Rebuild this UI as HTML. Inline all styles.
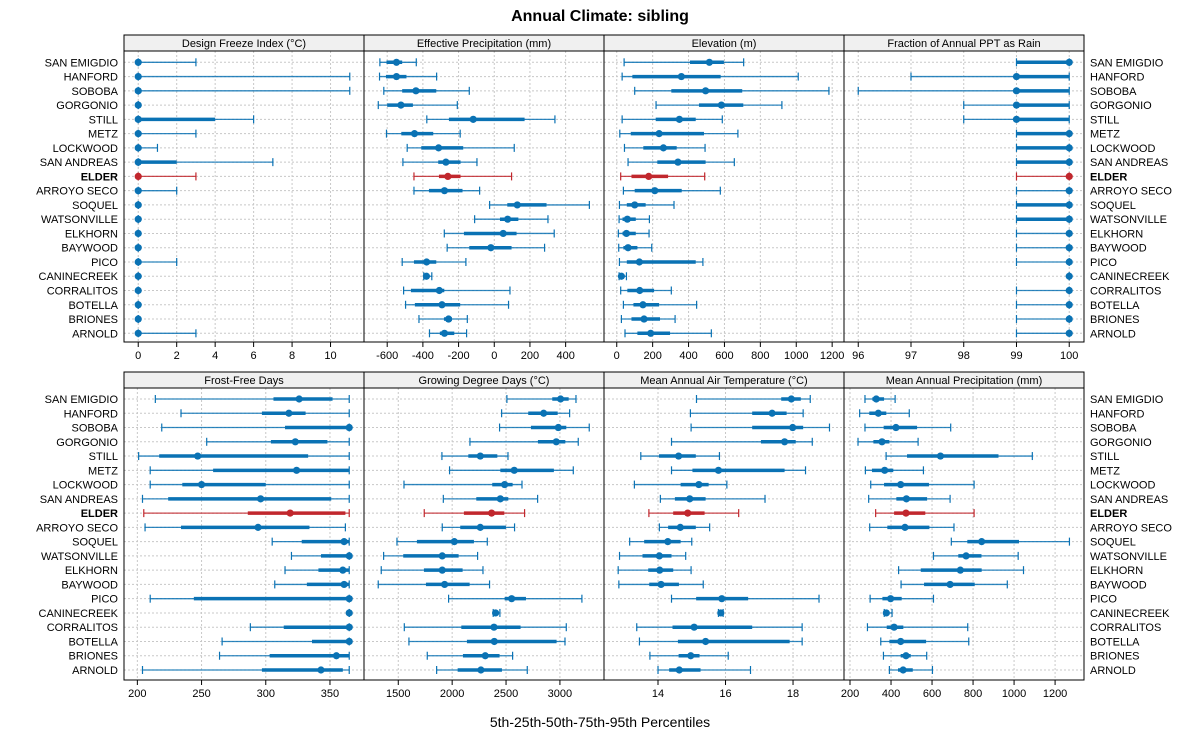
<!DOCTYPE html>
<html><head><meta charset="utf-8"><style>
body{margin:0;background:#fff;}
svg{display:block;font-family:"Liberation Sans",sans-serif;}
</style></head><body>
<svg id="c" width="1200" height="750" viewBox="0 0 1200 750">
<text x="600" y="21" text-anchor="middle" font-size="16" font-weight="bold">Annual Climate: sibling</text>
<text x="600" y="727" text-anchor="middle" font-size="14">5th-25th-50th-75th-95th Percentiles</text>
</svg>
<script>
const sites=["SAN EMIGDIO","HANFORD","SOBOBA","GORGONIO","STILL","METZ","LOCKWOOD","SAN ANDREAS","ELDER","ARROYO SECO","SOQUEL","WATSONVILLE","ELKHORN","BAYWOOD","PICO","CANINECREEK","CORRALITOS","BOTELLA","BRIONES","ARNOLD"];
const highlight="ELDER";
const titles=["Design Freeze Index (°C)","Effective Precipitation (mm)","Elevation (m)","Fraction of Annual PPT as Rain","Frost-Free Days","Growing Degree Days (°C)","Mean Annual Air Temperature (°C)","Mean Annual Precipitation (mm)"];
const ticks=[[0,2,4,6,8,10],[-600,-400,-200,0,200,400],[0,200,400,600,800,1000,1200],[96,97,98,99,100],[200,250,300,350],[1500,2000,2500,3000],[14,16,18],[200,400,600,800,1000,1200]];
const domains=[[-0.74,11.74],[-730,615],[-71,1266],[95.73,100.28],[189.6,376.5],[1182,3409],[12.4,19.51],[170.7,1341]];
const dfi=[[0,0,0,0,3],[0,0,0,0,11],[0,0,0,0,11],[0,0,0,0,0],[0,0,0,4,6],[0,0,0,0,3],[0,0,0,0,1],[0,0,0,2,7],[0,0,0,0,3],[0,0,0,0,2],[0,0,0,0,0],[0,0,0,0,0],[0,0,0,0,0],[0,0,0,0,0],[0,0,0,0,2],[0,0,0,0,0],[0,0,0,0,0],[0,0,0,0,0],[0,0,0,0,0],[0,0,0,0,3]];
const ppte=[[-641,-604,-548,-516,-437],[-643,-607,-548,-492,-323],[-619,-516,-439,-325,-140],[-650,-600,-523,-456,-207],[-378,-254,-118,170,340],[-604,-521,-447,-342,-191],[-488,-409,-312,-174,112],[-512,-314,-271,-189,-97],[-450,-310,-260,-189,97],[-450,-366,-279,-178,-82],[-26,73,129,293,533],[-110,32,75,135,301],[-280,-170,50,125,336],[-264,-140,-19,97,282],[-516,-450,-379,-325,-159],[-395,-390,-380,-370,-350],[-508,-467,-308,-280,88],[-497,-445,-293,-191,80],[-422,-282,-256,-237,-151],[-363,-305,-279,-224,-155]];
const elev=[[41,408,516,597,707],[30,87,360,579,1011],[100,304,495,699,1182],[219,458,583,705,920],[30,217,349,440,588],[17,78,236,486,675],[43,148,260,334,492],[63,226,341,495,655],[22,82,178,286,490],[37,100,212,362,577],[15,56,100,161,319],[13,32,59,106,182],[9,32,54,106,180],[11,37,63,115,195],[15,56,126,440,480],[13,17,26,37,54],[22,59,128,208,304],[37,93,146,236,445],[26,82,152,241,325],[46,115,189,297,527]];
const rain=[[99,99,100,100,100],[97,99,99,100,100],[96,99,99,100,100],[98,99,99,100,100],[98,99,99,100,100],[99,99,100,100,100],[99,99,100,100,100],[99,99,100,100,100],[99,100,100,100,100],[99,100,100,100,100],[99,99,100,100,100],[99,99,100,100,100],[99,100,100,100,100],[99,100,100,100,100],[99,100,100,100,100],[100,100,100,100,100],[99,100,100,100,100],[99,100,100,100,100],[99,100,100,100,100],[99,100,100,100,100]];
const ffd=[[214,306,326,352,365],[234,297,318,331,365],[219,315,365,365,365],[254,304,323,348,365],[201,217,247,333,365],[210,259,324,365,365],[210,235,250,300,365],[204,224,296,351,365],[205,286,319,362,365],[206,234,294,334,362],[305,328,361,365,365],[320,343,365,365,365],[315,341,360,365,365],[307,332,361,365,365],[210,244,365,365,365],[365,365,365,365,365],[288,314,365,365,365],[266,336,365,365,365],[264,303,355,365,365],[204,297,343,360,365]];
const gdd=[[2508,2929,3006,3081,3149],[2459,2706,2849,2979,3090],[2440,2731,2985,3059,3272],[2165,2796,2966,3050,3170],[1905,2150,2261,2419,2518],[1976,2447,2576,2944,3124],[1553,2372,2487,2561,2648],[1918,2224,2447,2521,2793],[1741,2109,2366,2484,2672],[1908,2075,2261,2499,2579],[1488,1673,2020,2202,2326],[1364,1546,1908,2060,2236],[1342,1738,1908,2097,2286],[1314,1757,1930,2162,2347],[1967,2487,2552,2685,3204],[2381,2390,2403,2410,2443],[1556,2085,2388,2635,3059],[1599,2137,2391,2969,3047],[1769,2100,2307,2440,2561],[1856,2051,2267,2462,2697]];
const maat=[[15.14,17.65,17.95,18.23,18.51],[14.96,16.79,17.38,17.81,18.30],[14.98,16.79,17.99,18.30,19.08],[14.40,17.05,17.75,18.08,18.57],[13.49,14.03,14.61,15.12,15.82],[14.40,15.02,15.79,17.75,18.37],[13.30,14.67,15.21,15.50,16.04],[14.07,14.50,14.94,15.41,17.17],[13.73,14.45,14.88,15.38,16.39],[14.04,14.30,14.66,15.12,15.53],[13.16,13.59,14.29,14.67,15.0],[12.86,13.54,14.04,14.40,14.82],[12.82,13.71,14.05,14.45,14.98],[12.84,13.74,14.09,14.62,15.34],[14.40,15.13,15.89,16.67,18.77],[15.79,15.83,15.86,15.89,15.93],[13.37,14.43,15.07,16.79,18.27],[13.45,14.59,15.41,17.90,18.27],[13.76,14.61,14.97,15.23,16.08],[14.0,14.33,14.63,15.26,16.74]];
const map=[[273,309,328,366,420],[247,294,338,377,489],[273,364,424,527,691],[239,314,356,392,532],[376,478,641,924,1089],[275,307,369,411,558],[301,366,447,585,805],[291,426,475,576,688],[325,415,473,567,805],[296,382,468,587,707],[694,772,842,1024,1270],[607,728,766,841,1020],[437,545,738,842,1046],[449,561,688,808,967],[298,358,398,452,607],[367,372,377,385,405],[285,379,415,460,774],[350,392,447,571,779],[363,447,473,496,574],[392,434,459,506,602]];
const allData=[dfi,ppte,elev,rain,ffd,gdd,maat,map];

const NS="http://www.w3.org/2000/svg";
const svg=document.getElementById('c');
function mk(tag,attrs,parent){const e=document.createElementNS(NS,tag);for(const k in attrs)e.setAttribute(k,attrs[k]);(parent||svg).appendChild(e);return e;}
const rowsY=[{top:35,strip:16,bot:342,y0:62.3,y1:333.3},{top:372,strip:16,bot:680,y0:399,y1:670}];
const px=[124,364,604,844,1084];
const blue="#0a72b4", red="#c1272d";
for(let p=0;p<8;p++){
  const r=Math.floor(p/4), c=p%4;
  const R=rowsY[r], x0=px[c], x1=px[c+1];
  const g=mk('g',{});
  
  
  const dom=domains[p];
  const xs=v=>x0+(v-dom[0])/(dom[1]-dom[0])*(x1-x0);
  const ys=i=>R.y0+i*(R.y1-R.y0)/(sites.length-1);
  const pt=R.top+R.strip;
  // grid
  ticks[p].forEach(t=>{const X=xs(t);const l=mk('line',{x1:X,x2:X,y1:pt,y2:R.bot,stroke:'#c8c8c8','stroke-dasharray':'2,2','stroke-width':1},g);
    
    });
  sites.forEach((s,i)=>{const l=mk('line',{x1:x0,x2:x1,y1:ys(i),y2:ys(i),stroke:'#c8c8c8','stroke-dasharray':'2,2','stroke-width':1},g);
    
    });
  // strip
  const st=mk('rect',{x:x0,y:R.top,width:x1-x0,height:R.strip,fill:'#f0f0f0',stroke:'#000','stroke-width':1},g);
  
  
  const stt=mk('text',{x:(x0+x1)/2,y:R.top+12,'text-anchor':'middle','font-size':11},g);
  stt.textContent=titles[p];
  
  
  // marks
  allData[p].forEach((d,i)=>{
    const col=sites[i]===highlight?red:blue, Y=ys(i);
    const m=mk('g',{},g);
    
    
    mk('line',{x1:xs(d[0]),x2:xs(d[4]),y1:Y,y2:Y,stroke:col,'stroke-width':1.3,'stroke-opacity':0.85},m);
    mk('line',{x1:xs(d[0]),x2:xs(d[0]),y1:Y-4,y2:Y+4,stroke:col,'stroke-width':1.2},m);
    mk('line',{x1:xs(d[4]),x2:xs(d[4]),y1:Y-4,y2:Y+4,stroke:col,'stroke-width':1.2},m);
    mk('line',{x1:xs(d[1]),x2:xs(d[3]),y1:Y,y2:Y,stroke:col,'stroke-width':3.5},m);
    mk('circle',{cx:xs(d[2]),cy:Y,r:3.6,fill:col},m);
  });
  // box
  const bx=mk('rect',{x:x0,y:pt,width:x1-x0,height:R.bot-pt,fill:'none',stroke:'#000','stroke-width':1},g);
  
  
  // ticks
  ticks[p].forEach(t=>{const X=xs(t);
    mk('line',{x1:X,x2:X,y1:R.bot,y2:R.bot+5,stroke:'#000'},g);
    const tl=mk('text',{x:X,y:R.bot+17,'text-anchor':'middle','font-size':11},g);
    tl.textContent=t;
    
    });
  // site labels
  if(c===0||c===3){
    sites.forEach((s,i)=>{
      const t=mk('text',{x:c===0?x0-6:x1+6,y:ys(i)+4,'text-anchor':c===0?'end':'start','font-size':11},g);
      if(s===highlight)t.setAttribute('font-weight','bold');
      t.textContent=s;
      
      
    });
  }
}
</script>
</body></html>
